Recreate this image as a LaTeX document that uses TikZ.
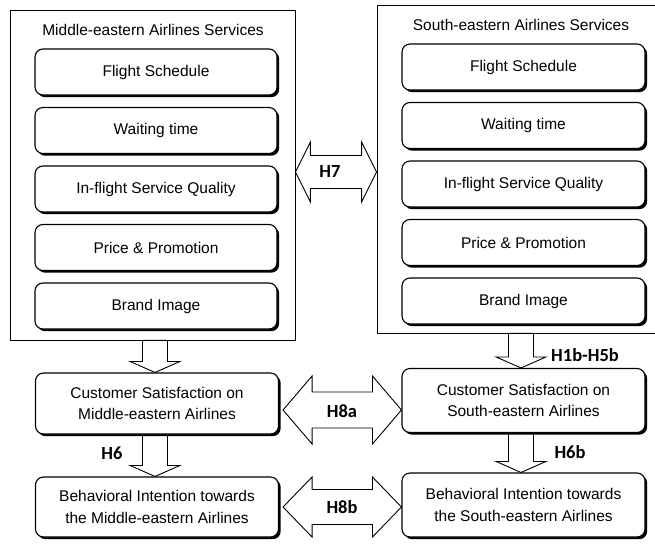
\documentclass[tikz,border=0pt]{standalone}
\usepackage{fontspec}
\setmainfont{Liberation Sans}
\newfontfamily\boxfont{Liberation Sans}
\newfontfamily\labelfont{Carlito}
\usetikzlibrary{calc,shadows,backgrounds}

% double-headed block arrow: #1 left tip, #2 right tip, #3 head length,
% #4 head half-width, #5 shaft half-width
\newcommand\hdblarrow[5]{%
  \draw[blockarrow] (#1) -- ++(#3,-#4) -- ++(0,#4-#5) -- ($(#2)+(-#3,-#5)$)
    -- ++(0,#5-#4) -- (#2) -- ++(-#3,#4) -- ++(0,#5-#4) -- ($(#1)+(#3,#5)$)
    -- ++(0,#4-#5) -- cycle;}
% downward block arrow: #1 tail centre, #2 tip, #3 head length,
% #4 head half-width, #5 shaft half-width
\newcommand\vdownarrow[5]{%
  \draw[blockarrow] ($(#1)+(-#5,0)$) -- ($(#2)+(-#5,-#3)$) -- ++(#5-#4,0)
    -- (#2) -- ++(#4,-#3) -- ++(#5-#4,0) -- ($(#1)+(#5,0)$) -- cycle;}

\begin{document}
\begin{tikzpicture}[x=1pt,y=-1pt,
  outbox/.style={draw, line width=0.8pt, inner sep=0pt},
  inbox/.style={draw, line width=1.1pt, rounded corners=8pt, fill=white,
    minimum height=46pt, align=center, inner sep=0pt,
    font=\boxfont\fontsize{15.5}{21.5}\selectfont,
    drop shadow={shadow xshift=2.2pt, shadow yshift=-2.2pt, opacity=1, fill=black}},
  ttl/.style={font=\boxfont\fontsize{15.5}{18}\selectfont},
  hlabel/.style={font=\labelfont\bfseries\fontsize{18.5}{22}\selectfont},
  blockarrow/.style={draw, line width=0.9pt, fill=white, line join=miter}]
\useasboundingbox (0,0) rectangle (655,543);

% service groups
\node[outbox, minimum width=285pt, minimum height=330pt] (lsvc) at (152.5,175) {};
\node[ttl] (ltitle) at (153,30) {Middle-eastern Airlines Services};
\node[outbox, minimum width=285pt, minimum height=328pt] (rsvc) at (519.5,169) {};
\node[ttl] (rtitle) at (521,25) {South-eastern Airlines Services};

% service dimensions
\foreach \nm/\yl/\yr/\txt in {fs/72/67/Flight Schedule, wt/130.5/125.5/Waiting time,
    iq/189/184/In-flight Service Quality, pp/247.5/242.5/Price \& Promotion,
    bi/306/301/Brand Image} {
  \node[inbox, minimum width=242pt] (l\nm) at (156,\yl) {\txt};
  \node[inbox, minimum width=243pt] (r\nm) at (523.5,\yr) {\txt};
}

% outcomes
\node[inbox, minimum width=243pt, minimum height=61pt] (lcs) at (157,403.5)
  {Customer Satisfaction on\\Middle-eastern Airlines};
\node[inbox, minimum width=243pt, minimum height=60pt] (lbi) at (157,507)
  {Behavioral Intention towards\\the Middle-eastern Airlines};
\node[inbox, minimum width=243pt, minimum height=64pt] (rcs) at (523.5,400.5)
  {Customer Satisfaction on\\South-eastern Airlines};
\node[inbox, minimum width=243pt, minimum height=64pt] (rbi) at (523.5,505)
  {Behavioral Intention towards\\the South-eastern Airlines};

% block arrows
\coordinate (la) at (155,0);
\coordinate (ra) at (521,0);
\coordinate (h7y) at (0,172);
\coordinate (h8ay) at (0,410);
\coordinate (h8by) at (0,507);
\coordinate (h8al) at ($(lcs.east |- h8ay)+(4,0)$);
\coordinate (h8ar) at (rcs.west |- h8ay);
\coordinate (h8bl) at ($(lbi.east |- h8by)+(4,0)$);
\coordinate (h8br) at (rbi.west |- h8by);
\begin{scope}[on background layer]
  \vdownarrow{la |- lsvc.south}{la |- lcs.north}{11}{25}{12.5}
  \vdownarrow{la |- lcs.south}{la |- lbi.north}{11}{25}{12.5}
  \vdownarrow{ra |- rsvc.south}{ra |- rcs.north}{11}{25}{12.5}
  \vdownarrow{ra |- rcs.south}{ra |- rbi.north}{11}{25}{12.5}
  \hdblarrow{lsvc.east |- h7y}{rsvc.west |- h7y}{15}{30}{16.5}
  \hdblarrow{h8al}{h8ar}{29}{34}{18}
  \hdblarrow{h8bl}{h8br}{29}{30}{17.5}
\end{scope}

% hypothesis labels
\node[hlabel] (t7) at (330,172) {H7};
\node[hlabel] (t8a) at (342,411) {H8a};
\node[hlabel] (t8b) at (342,507) {H8b};
\node[hlabel] (t6) at (112,453) {H6};
\node[hlabel] (t15) at (585,355) {H1b-H5b};
\node[hlabel] (t6b) at (570,452) {H6b};
\end{tikzpicture}
\end{document}
